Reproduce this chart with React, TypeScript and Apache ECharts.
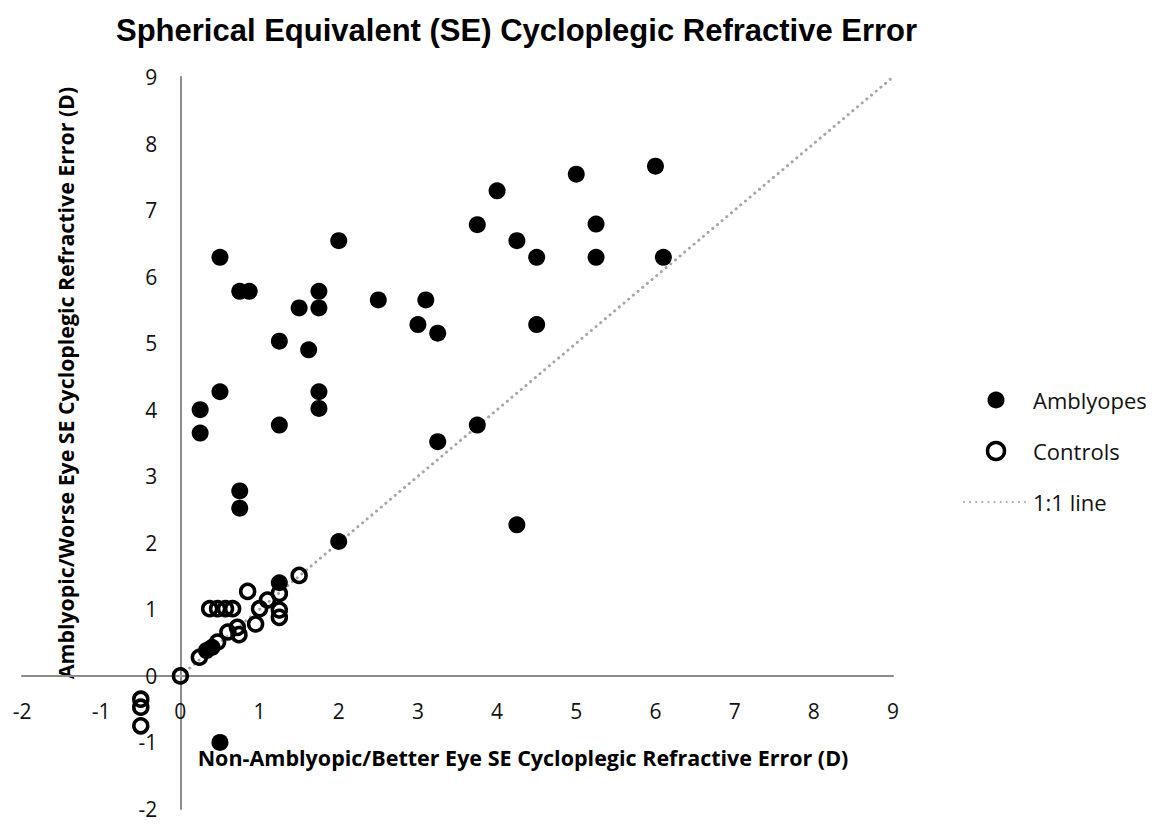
import React, { useEffect, useRef } from "react";
import * as echarts from "echarts";

const titleText = "Spherical Equivalent (SE) Cycloplegic Refractive Error";
const xAxisName = "Non-Amblyopic/Better Eye SE Cycloplegic Refractive Error (D)";
const yAxisName = "Amblyopic/Worse Eye SE Cycloplegic Refractive Error (D)";
const seriesNames = ["Amblyopes", "Controls", "1:1 line"];

const axisMin = -2;
const axisMax = 9;

const amblyopes: [number, number][] = [
  [0.25, 4.0], [0.25, 3.65], [0.5, 4.27], [1.75, 4.27], [1.75, 4.02], [1.25, 3.77],
  [0.75, 2.78], [0.75, 2.52], [2, 2.02], [1.25, 1.4], [0.33, 0.38], [0.4, 0.43],
  [0.5, -1], [0.5, 6.29], [0.75, 5.78], [0.87, 5.78], [2, 6.54], [1.75, 5.78],
  [1.75, 5.53], [1.5, 5.53], [2.5, 5.65], [3.1, 5.65], [3, 5.28], [3.25, 5.15],
  [1.25, 5.03], [1.62, 4.9], [3.75, 6.78], [3.75, 3.77], [3.25, 3.52], [5, 7.54],
  [6, 7.66], [4, 7.29], [4.25, 6.54], [4.5, 6.29], [5.25, 6.79], [5.25, 6.29],
  [6.1, 6.29], [4.5, 5.28], [4.25, 2.27],
];

const controls: [number, number][] = [
  [0, 0], [0.24, 0.28], [0.37, 1.01], [0.47, 1.01], [0.57, 1.01], [0.66, 1.01],
  [0.47, 0.51], [0.6, 0.66], [0.72, 0.73], [0.74, 0.62], [0.95, 0.78], [0.85, 1.27],
  [1.0, 1.01], [1.1, 1.14], [1.25, 1.24], [1.25, 0.99], [1.25, 0.88], [1.5, 1.51],
  [-0.5, -0.35], [-0.5, -0.47], [-0.5, -0.75],
];

const identityLine: [number, number][] = [
  [0, 0],
  [9, 9],
];

const labelFont = "'Open Sans', 'DejaVu Sans', sans-serif";

const W = 1153;
const H = 825;
const gridLeft = 22;
const gridRight = 260;
const gridTop = 77;
const gridBottom = 16;

export default function App() {
  const ref = useRef<HTMLDivElement>(null);
  useEffect(() => {
    if (!ref.current) return;
    const chart = echarts.init(ref.current, undefined, { renderer: "svg" });
    const plotW = W - gridLeft - gridRight;
    const plotH = H - gridTop - gridBottom;
    // place axes (line + labels) through the origin
    const xOffset = -((0 - axisMin) / (axisMax - axisMin)) * plotH;
    const yOffset = -((0 - axisMin) / (axisMax - axisMin)) * plotW;
    const axisCommon = {
      type: "value" as const,
      min: axisMin,
      max: axisMax,
      interval: 1,
      axisLine: { onZero: false, lineStyle: { color: "#8c8c8c", width: 2 } },
      axisTick: { show: false },
      splitLine: { show: false },
    };
    chart.setOption({
      animation: false,
      backgroundColor: "#ffffff",
      title: {
        text: titleText,
        left: 111,
        top: 10,
        textStyle: {
          fontFamily: "'Liberation Sans Narrow', 'Liberation Sans', Arial, sans-serif",
          fontWeight: "bold",
          fontSize: 31,
          color: "#000",
        },
      },
      grid: { left: gridLeft, right: gridRight, top: gridTop, bottom: gridBottom, containLabel: false },
      xAxis: {
        ...axisCommon,
        offset: xOffset,
        axisLabel: {
          margin: 25,
          fontFamily: labelFont,
          fontSize: 21,
          color: "#111",
        },
      },
      yAxis: {
        ...axisCommon,
        offset: yOffset,
        axisLabel: {
          margin: 23,
          fontFamily: labelFont,
          fontSize: 21,
          color: "#111",
          padding: [6, 0, 0, 0],
        },
      },
      legend: {
        orient: "vertical",
        left: 958,
        top: 384,
        itemWidth: 64,
        itemHeight: 17,
        itemGap: 29,
        textStyle: { fontFamily: labelFont, fontSize: 22, color: "#111" },
        data: [
          { name: seriesNames[0], icon: "circle" },
          {
            name: seriesNames[1],
            icon: "circle",
            itemStyle: { color: "rgba(0,0,0,0)", borderColor: "#000", borderWidth: 3.5 },
          },
          { name: seriesNames[2], itemStyle: { opacity: 0 } },
        ],
      },
      graphic: [
        {
          type: "text",
          x: 523,
          y: 757,
          style: {
            text: xAxisName,
            font: "bold 21.5px 'Open Sans', sans-serif",
            fill: "#000",
            align: "center",
            verticalAlign: "middle",
          },
        },
        {
          type: "text",
          x: 65,
          y: 383,
          rotation: Math.PI / 2,
          style: {
            text: yAxisName,
            font: "bold 21.3px 'Open Sans', sans-serif",
            fill: "#000",
            align: "center",
            verticalAlign: "middle",
          },
        },
      ],
      series: [
        {
          name: seriesNames[2],
          type: "line",
          data: identityLine,
          symbol: "none",
          showSymbol: false,
          z: 1,
          color: "#a6a6a6",
          itemStyle: { color: "#a6a6a6" },
          lineStyle: { color: "#a6a6a6", width: 3, type: [0.1, 6], cap: "round" },
        },
        {
          name: seriesNames[1],
          type: "scatter",
          data: controls,
          symbol: "circle",
          symbolSize: 14,
          z: 2,
          itemStyle: { color: "rgba(0,0,0,0)", borderColor: "#000", borderWidth: 3.5, opacity: 1 },
        },
        {
          name: seriesNames[0],
          type: "scatter",
          data: amblyopes,
          symbol: "circle",
          symbolSize: 17,
          z: 3,
          itemStyle: { color: "#000", opacity: 1 },
        },
      ],
    });
    return () => chart.dispose();
  }, []);
  return (
    <div
      ref={ref}
      style={{ position: "absolute", left: 0, top: 0, width: W, height: H }}
    />
  );
}
